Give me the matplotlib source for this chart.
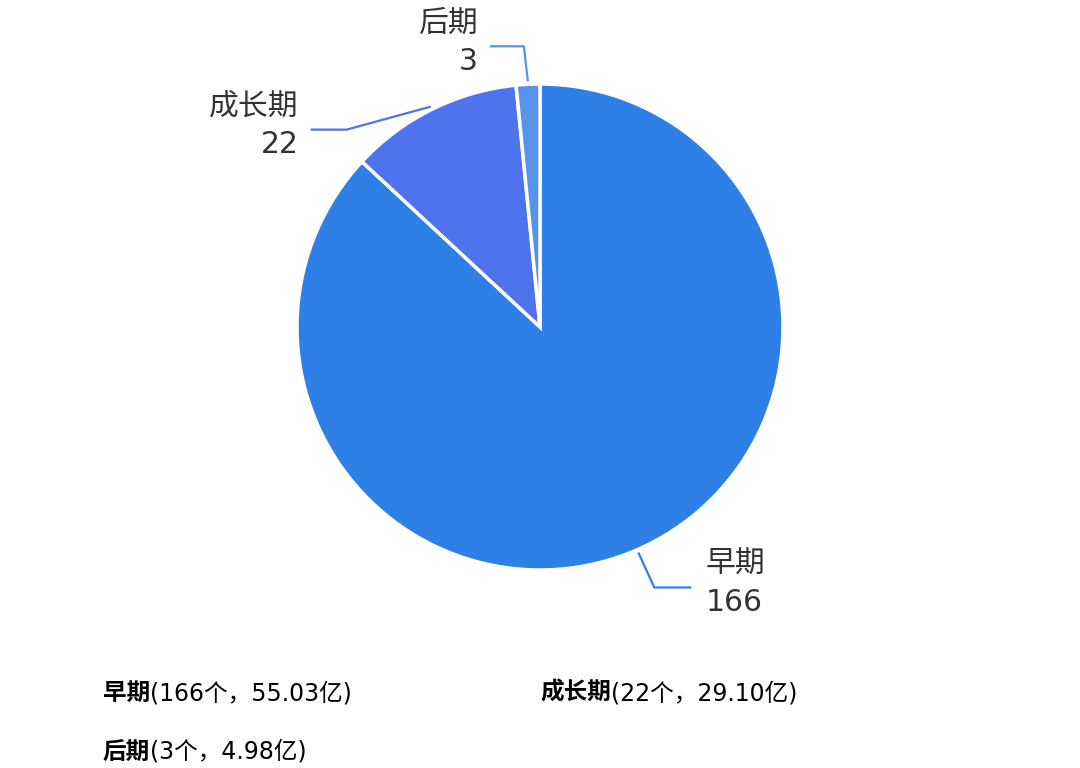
import numpy as np
import matplotlib
matplotlib.use('Agg')
import matplotlib.pyplot as plt

plt.rcParams['font.family'] = ['DejaVu Sans', 'Noto Sans CJK SC']

# data
stages = ['早期', '成长期', '后期']
counts = [166, 22, 3]
amounts = [55.03, 29.10, 4.98]
colors = ['#2e7fe6', '#4e73ec', '#5893ea']

W, H = 1080, 768
fig = plt.figure(figsize=(W / 100, H / 100), dpi=100)
ax = fig.add_axes([0, 0, 1, 1])

cx, cy, r = 540, H - 327, 243
wedges, _ = ax.pie(counts, colors=colors, startangle=90, counterclock=False,
                   center=(cx, cy), radius=r, frame=True,
                   wedgeprops=dict(edgecolor='white', linewidth=2.5))
ax.set_xlim(0, W)
ax.set_ylim(0, H)
ax.set_aspect('equal')
ax.axis('off')

# leader lines + labels (elbow offsets are layout)
elbows = {
    '早期': ((16, -35), (53, -35), 'left'),
    '成长期': ((-84, -23), (-120, -23), 'right'),
    '后期': ((-4, 35), (-38, 35), 'right'),
}
for w, name, n, c in zip(wedges, stages, counts, colors):
    ang = np.deg2rad((w.theta1 + w.theta2) / 2)
    x0 = cx + (r + 3) * np.cos(ang)
    y0 = cy + (r + 3) * np.sin(ang)
    (dx1, dy1), (dx2, dy2), side = elbows[name]
    x1, y1 = x0 + dx1, y0 + dy1
    x2, y2 = x0 + dx2, y0 + dy2
    ax.plot([x0, x1, x2], [y0, y1, y2], color=c, lw=1.6, solid_capstyle='butt')
    tx = x2 + (14 if side == 'left' else -12)
    ax.text(tx, y2 + 4, f'{name}\n{n}', ha=side, va='center', fontsize=21.5,
            color='#333333', linespacing=1.42, multialignment=side)

# legend-like text at bottom
legend_pos = [(103, 693), (540, 693), (103, 752)]
for (lx, ly), name, n, a in zip(legend_pos, stages, counts, amounts):
    t = ax.text(lx, H - ly, name, fontsize=17, fontweight='bold', color='black',
                ha='left', va='center')
    ax.annotate(f'({n}个，{a:.2f}亿)', xy=(1, 0.5), xycoords=t, ha='left', va='center',
                fontsize=17, color='black')

fig.savefig('out.png', dpi=100)
